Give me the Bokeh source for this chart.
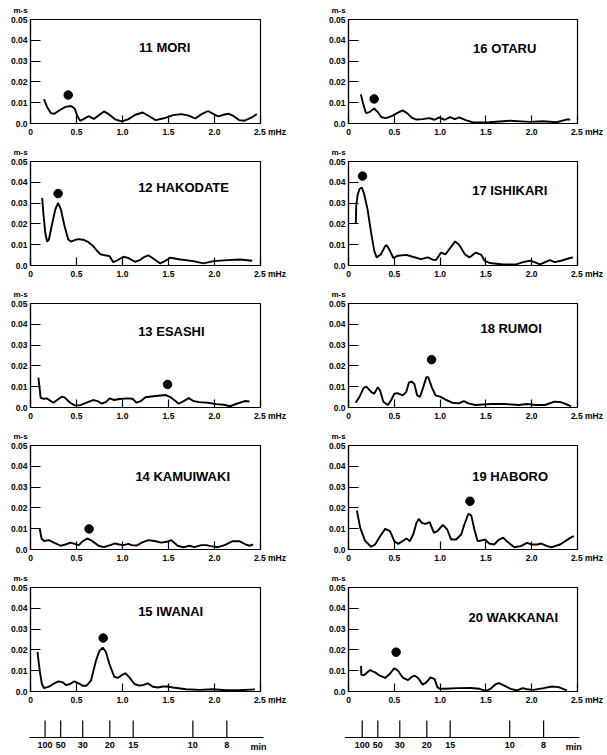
from bokeh.plotting import figure
from bokeh.layouts import column, row
from bokeh.models import Range1d, FixedTicker, Label, LinearAxis
from bokeh.core.properties import value
from bokeh.embed import file_html
from bokeh.resources import INLINE

# ---------------- data ----------------
stations = ["11 MORI", "12 HAKODATE", "13 ESASHI", "14 KAMUIWAKI", "15 IWANAI",
            "16 OTARU", "17 ISHIKARI", "18 RUMOI", "19 HABORO", "20 WAKKANAI"]

mori_f = [0.146, 0.18, 0.22, 0.26, 0.32, 0.38, 0.44, 0.48, 0.51, 0.54, 0.58, 0.63, 0.69, 0.75, 0.80, 0.85, 0.92, 0.99, 1.06, 1.14,
          1.22, 1.29, 1.36, 1.45, 1.55, 1.64, 1.72, 1.79, 1.86, 1.93, 1.99, 2.04, 2.10, 2.15, 2.21, 2.27, 2.32, 2.40, 2.46]
mori_a = [0.0117, 0.0080, 0.0050, 0.0047, 0.0065, 0.0080, 0.0084, 0.0072, 0.0035, 0.0013, 0.0022, 0.0035, 0.0022, 0.0042, 0.0058,
          0.0045, 0.0020, 0.0010, 0.0020, 0.0042, 0.0053, 0.0035, 0.0016, 0.0025, 0.0040, 0.0045, 0.0038, 0.0024, 0.0045, 0.0060,
          0.0045, 0.0034, 0.0042, 0.0047, 0.0035, 0.0016, 0.0013, 0.0028, 0.0045]

hakodate_f = [0.127, 0.14, 0.16, 0.18, 0.20, 0.23, 0.27, 0.30, 0.33, 0.37, 0.41, 0.44, 0.48, 0.52, 0.57, 0.62, 0.68, 0.72, 0.76, 0.81,
              0.86, 0.90, 0.94, 1.01, 1.06, 1.135, 1.19, 1.24, 1.28, 1.33, 1.41, 1.46, 1.52, 1.63, 1.77, 1.88, 1.99, 2.14, 2.28, 2.41]
hakodate_a = [0.0325, 0.0250, 0.0160, 0.0115, 0.0125, 0.0190, 0.0270, 0.0301, 0.0270, 0.0190, 0.0125, 0.0115, 0.0122, 0.0127,
              0.0124, 0.0115, 0.0094, 0.0072, 0.0054, 0.0049, 0.0045, 0.0016, 0.0024, 0.0042, 0.0037, 0.0018, 0.0026, 0.0042,
              0.0049, 0.0035, 0.0010, 0.0021, 0.0037, 0.0029, 0.0021, 0.0010, 0.0021, 0.0026, 0.0029, 0.0023]

esashi_f = [0.086, 0.11, 0.14, 0.176, 0.25, 0.30, 0.34, 0.37, 0.43, 0.48, 0.535, 0.61, 0.68, 0.73, 0.77, 0.82, 0.86, 0.91, 0.965,
            1.055, 1.11, 1.15, 1.20, 1.25, 1.36, 1.47, 1.52, 1.575, 1.61, 1.665, 1.72, 1.77, 1.83, 1.93, 2.02, 2.10, 2.17, 2.24,
            2.33, 2.38]
esashi_a = [0.0144, 0.0047, 0.0042, 0.0044, 0.0023, 0.0040, 0.0052, 0.0049, 0.0023, 0.0010, 0.0010, 0.0023, 0.0036, 0.0031,
            0.0019, 0.0026, 0.0044, 0.0036, 0.0041, 0.0044, 0.0042, 0.0023, 0.0031, 0.0049, 0.0055, 0.0060, 0.0050, 0.0031,
            0.0018, 0.0031, 0.0045, 0.0031, 0.0026, 0.0023, 0.0016, 0.0013, 0.0006, 0.0018, 0.0031, 0.0029]

kamuiwaki_f = [0.10, 0.12, 0.147, 0.20, 0.255, 0.327, 0.38, 0.435, 0.48, 0.525, 0.56, 0.615, 0.67, 0.74, 0.795, 0.867, 0.92,
               0.964, 1.01, 1.065, 1.10, 1.155, 1.21, 1.28, 1.35, 1.42, 1.48, 1.53, 1.60, 1.66, 1.73, 1.78, 1.856, 1.91, 1.96,
               2.036, 2.11, 2.198, 2.27, 2.34, 2.38, 2.42]
kamuiwaki_a = [0.0100, 0.0053, 0.0041, 0.0045, 0.0033, 0.0018, 0.0024, 0.0033, 0.0027, 0.0021, 0.0037, 0.0053, 0.0041, 0.0018,
               0.0011, 0.0021, 0.0029, 0.0024, 0.0021, 0.0027, 0.0021, 0.0019, 0.0033, 0.0045, 0.0041, 0.0033, 0.0037, 0.0045,
               0.0018, 0.0011, 0.0018, 0.0011, 0.0021, 0.0021, 0.0016, 0.0011, 0.0021, 0.0040, 0.0040, 0.0024, 0.0018, 0.0024]

iwanai_f = [0.076, 0.10, 0.124, 0.149, 0.20, 0.258, 0.305, 0.35, 0.385, 0.43, 0.476, 0.523, 0.567, 0.61, 0.657, 0.712, 0.748,
            0.785, 0.82, 0.857, 0.91, 0.948, 0.984, 1.03, 1.075, 1.13, 1.184, 1.23, 1.275, 1.33, 1.384, 1.44, 1.49, 1.547, 1.69,
            1.84, 1.98, 2.13, 2.27, 2.44]
iwanai_a = [0.0190, 0.0100, 0.0036, 0.0016, 0.0023, 0.0039, 0.0049, 0.0044, 0.0031, 0.0036, 0.0049, 0.0039, 0.0028, 0.0028,
            0.0052, 0.0149, 0.0194, 0.0211, 0.0190, 0.0133, 0.0071, 0.0065, 0.0076, 0.0088, 0.0068, 0.0036, 0.0028, 0.0032,
            0.0039, 0.0023, 0.0019, 0.0024, 0.0024, 0.0019, 0.0011, 0.0008, 0.0011, 0.0006, 0.0006, 0.0010]

otaru_f = [0.135, 0.16, 0.19, 0.23, 0.28, 0.32, 0.36, 0.41, 0.47, 0.53, 0.59, 0.64, 0.69, 0.74, 0.81, 0.88, 0.94, 0.99, 1.05,
           1.11, 1.16, 1.21, 1.28, 1.36, 1.54, 1.76, 1.98, 2.12, 2.27, 2.38, 2.42]
otaru_a = [0.0140, 0.0095, 0.0050, 0.0055, 0.0072, 0.0055, 0.0030, 0.0026, 0.0035, 0.0050, 0.0063, 0.0050, 0.0028, 0.0019,
           0.0021, 0.0026, 0.0018, 0.0029, 0.0018, 0.0031, 0.0021, 0.0029, 0.0016, 0.0005, 0.0006, 0.0013, 0.0008, 0.0011,
           0.0006, 0.0019, 0.0019]

ishikari_f = [0.08, 0.085, 0.10, 0.12, 0.146, 0.17, 0.208, 0.245, 0.281, 0.307, 0.354, 0.40, 0.416, 0.45, 0.49, 0.54, 0.63,
              0.70, 0.79, 0.865, 0.92, 0.956, 1.01, 1.06, 1.10, 1.165, 1.21, 1.27, 1.32, 1.39, 1.45, 1.485, 1.54, 1.69, 1.83,
              1.905, 1.98, 2.03, 2.09, 2.16, 2.20, 2.25, 2.32, 2.42, 2.45]
ishikari_a = [0.0200, 0.0290, 0.0340, 0.0368, 0.0375, 0.0345, 0.0270, 0.0163, 0.0070, 0.0039, 0.0054, 0.0093, 0.0098, 0.0073,
              0.0036, 0.0047, 0.0051, 0.0042, 0.0031, 0.0039, 0.0028, 0.0026, 0.0062, 0.0054, 0.0078, 0.0116, 0.0098, 0.0054,
              0.0039, 0.0062, 0.0051, 0.0023, 0.0012, 0.0005, 0.0005, 0.0016, 0.0023, 0.0016, 0.0005, 0.0019, 0.0026, 0.0016,
              0.0023, 0.0036, 0.0039]

rumoi_f = [0.078, 0.12, 0.165, 0.195, 0.25, 0.28, 0.32, 0.345, 0.38, 0.43, 0.465, 0.50, 0.535, 0.59, 0.63, 0.66, 0.69, 0.72,
           0.75, 0.78, 0.81, 0.85, 0.87, 0.91, 0.95, 1.006, 1.06, 1.13, 1.205, 1.26, 1.31, 1.385, 1.565, 1.71, 1.857, 1.95,
           2.04, 2.145, 2.25, 2.325, 2.40, 2.43]
rumoi_a = [0.0023, 0.0051, 0.0094, 0.0100, 0.0074, 0.0066, 0.0097, 0.0082, 0.0028, 0.0012, 0.0035, 0.0066, 0.0069, 0.0058,
           0.0074, 0.0120, 0.0125, 0.0112, 0.0058, 0.0051, 0.0089, 0.0146, 0.0146, 0.0097, 0.0058, 0.0051, 0.0038, 0.0023,
           0.0020, 0.0031, 0.0020, 0.0012, 0.0017, 0.0017, 0.0012, 0.0017, 0.0012, 0.0012, 0.0028, 0.0025, 0.0012, 0.0005]

haboro_f = [0.092, 0.128, 0.18, 0.247, 0.29, 0.345, 0.40, 0.453, 0.50, 0.543, 0.60, 0.634, 0.67, 0.706, 0.742, 0.767, 0.80,
            0.84, 0.886, 0.933, 0.97, 1.03, 1.078, 1.12, 1.175, 1.23, 1.265, 1.308, 1.34, 1.374, 1.41, 1.446, 1.49, 1.536,
            1.59, 1.644, 1.69, 1.735, 1.81, 1.88, 1.95, 2.00, 2.06, 2.10, 2.168, 2.22, 2.31, 2.42, 2.46]
haboro_a = [0.0187, 0.0104, 0.0043, 0.0013, 0.0024, 0.0064, 0.0099, 0.0088, 0.0040, 0.0027, 0.0043, 0.0053, 0.0040, 0.0072,
            0.0128, 0.0147, 0.0128, 0.0123, 0.0132, 0.0080, 0.0088, 0.0118, 0.0096, 0.0048, 0.0048, 0.0072, 0.0120, 0.0172,
            0.0164, 0.0096, 0.0040, 0.0043, 0.0048, 0.0029, 0.0024, 0.0048, 0.0057, 0.0037, 0.0011, 0.0016, 0.0032, 0.0024,
            0.0024, 0.0029, 0.0016, 0.0011, 0.0024, 0.0056, 0.0064]

wakkanai_f = [0.137, 0.14, 0.173, 0.235, 0.29, 0.343, 0.40, 0.45, 0.50, 0.54, 0.596, 0.65, 0.694, 0.723, 0.76, 0.81, 0.85,
              0.896, 0.94, 0.97, 0.994, 1.05, 1.19, 1.337, 1.43, 1.50, 1.55, 1.61, 1.644, 1.70, 1.77, 1.84, 1.90, 1.95, 2.02,
              2.13, 2.22, 2.295, 2.37, 2.385]
wakkanai_a = [0.0123, 0.0080, 0.0079, 0.0103, 0.0092, 0.0076, 0.0065, 0.0084, 0.0112, 0.0100, 0.0065, 0.0055, 0.0071, 0.0076,
              0.0065, 0.0033, 0.0044, 0.0068, 0.0060, 0.0021, 0.0013, 0.0013, 0.0016, 0.0017, 0.0013, 0.0003, 0.0013, 0.0036,
              0.0040, 0.0028, 0.0013, 0.0005, 0.0016, 0.0011, 0.0008, 0.0016, 0.0024, 0.0021, 0.0008, 0.0005]

curves_f = [mori_f, hakodate_f, esashi_f, kamuiwaki_f, iwanai_f, otaru_f, ishikari_f, rumoi_f, haboro_f, wakkanai_f]
curves_a = [mori_a, hakodate_a, esashi_a, kamuiwaki_a, iwanai_a, otaru_a, ishikari_a, rumoi_a, haboro_a, wakkanai_a]

dot_f = [0.41, 0.30, 1.49, 0.637, 0.79, 0.28, 0.153, 0.907, 1.326, 0.52]
dot_a = [0.0137, 0.0346, 0.0111, 0.0099, 0.0257, 0.0118, 0.0430, 0.0230, 0.0232, 0.0189]

x_ticks = [0, 0.5, 1.0, 1.5, 2.0, 2.5]
x_tick_labels = ["0", "0.5", "1.0", "1.5", "2.0", "2.5"]
x_unit = "mHz"
y_ticks = [0, 0.01, 0.02, 0.03, 0.04, 0.05]
y_tick_labels = ["0.0", "0.01", "0.02", "0.03", "0.04", "0.05"]
y_unit = "m-s"

period_min = ["100", "50", "30", "20", "15", "10", "8"]
period_pos = [0.15, 0.32, 0.56, 0.855, 1.11, 1.76, 2.13]
period_unit = "min"

# ------------- layout constants (label placement) -------------
name_pos = [(1.18, 0.0365), (1.17, 0.0375), (1.17, 0.0365), (1.14, 0.0350), (1.17, 0.0385),
            (1.36, 0.0360), (1.35, 0.0360), (1.44, 0.0380), (1.35, 0.0350), (1.31, 0.0356)]

FONT = "Liberation Sans"
NBSP = "\u00a0"


def style_axis(ax, size="8.5px"):
    ax.axis_line_color = "black"
    ax.axis_line_width = 1.2
    ax.major_tick_line_color = "black"
    ax.major_tick_line_width = 1.2
    ax.minor_tick_line_color = None
    ax.major_label_text_font = FONT
    ax.major_label_text_font_style = "bold"
    ax.major_label_text_font_size = size
    ax.major_label_text_color = "black"


def panel(i, left):
    w = 305 if left else 302
    p = figure(width=w, height=142, x_range=Range1d(0, 2.5), y_range=Range1d(0, 0.05),
               toolbar_location=None, output_backend="svg",
               min_border_left=30 if left else 43, min_border_right=45 if left else 30,
               min_border_top=19, min_border_bottom=19)
    p.xgrid.visible = False
    p.ygrid.visible = False
    p.outline_line_color = "black"
    p.outline_line_width = 1.2
    p.background_fill_color = "white"
    p.border_fill_color = "white"

    xa = p.xaxis[0]
    xa.ticker = FixedTicker(ticks=x_ticks)
    labels = {t: s for t, s in zip(x_ticks, x_tick_labels)}
    # last tick carries the unit, padded so its number stays centred on the tick
    labels[x_ticks[-1]] = NBSP * 8 + x_tick_labels[-1] + " " + x_unit
    xa.major_label_overrides = labels
    xa.major_tick_in = 8
    xa.major_tick_out = 0
    xa.major_label_standoff = 3
    style_axis(xa)

    ya = p.yaxis[0]
    ya.ticker = FixedTicker(ticks=y_ticks)
    ya.major_label_overrides = {t: s for t, s in zip(y_ticks, y_tick_labels)}
    ya.major_tick_in = 10
    ya.major_tick_out = 0
    ya.major_label_standoff = 3
    style_axis(ya)

    # unit "m-s" written above the top-left corner of the value axis
    ua = LinearAxis(ticker=FixedTicker(ticks=[x_ticks[0]]),
                    major_label_overrides={x_ticks[0]: y_unit + NBSP * 9})
    style_axis(ua, "8px")
    ua.axis_line_color = None
    ua.major_tick_line_color = None
    ua.major_tick_in = 0
    ua.major_tick_out = 0
    ua.major_label_standoff = 5
    p.add_layout(ua, "above")

    p.line(curves_f[i], curves_a[i], line_color="black", line_width=1.9)
    p.scatter([dot_f[i]], [dot_a[i]], size=8.5, color="black")

    nx, ny = name_pos[i]
    p.add_layout(Label(x=nx, y=ny, text=stations[i], text_font=FONT, text_font_style="bold",
                       text_font_size="13px", text_baseline="middle", text_align="left", text_color="black"))
    return p


def period_axis(left):
    # pixel layout of the strip (in figure pixels): zero frequency position & scale
    w = 305 if left else 302
    zero_px = 30.8 if left else 43.0
    scale = 91.8 if left else 91.6
    line_start, line_end = (-0.02, 2.53) if left else (-0.04, 2.52)
    unit_x = 2.475 if left else 2.46
    p = figure(width=w, height=45, x_range=Range1d(-zero_px / scale, (w - zero_px) / scale),
               y_range=Range1d(0, 45), toolbar_location=None, output_backend="svg",
               min_border_left=0, min_border_right=0, min_border_top=0, min_border_bottom=0)
    p.xaxis.visible = False
    p.yaxis.visible = False
    p.xgrid.visible = False
    p.ygrid.visible = False
    p.outline_line_color = None
    base = 18
    p.segment(x0=[line_start], y0=[base], x1=[line_end], y1=[base], line_color="black", line_width=1.2)
    p.segment(x0=period_pos, y0=[base] * len(period_pos), x1=period_pos, y1=[base + 17] * len(period_pos),
              line_color="black", line_width=1.2)
    p.text(x=period_pos, y=[base - 4] * len(period_pos), text=period_min, text_font=value(FONT),
           text_font_style="bold", text_font_size="9px", text_align="center", text_baseline="top",
           text_color="black")
    p.text(x=[unit_x], y=[base - 4], text=[period_unit], text_font=value(FONT),
           text_font_style="bold", text_font_size="9px", text_align="center", text_baseline="top",
           text_color="black")
    return p


rows = []
for k in range(5):
    rows.append(row(panel(k, True), panel(k + 5, False), spacing=0))
rows.append(row(period_axis(True), period_axis(False), spacing=0))
layout = column(*rows, spacing=0)

open("out.html", "w").write(file_html(layout, INLINE))
